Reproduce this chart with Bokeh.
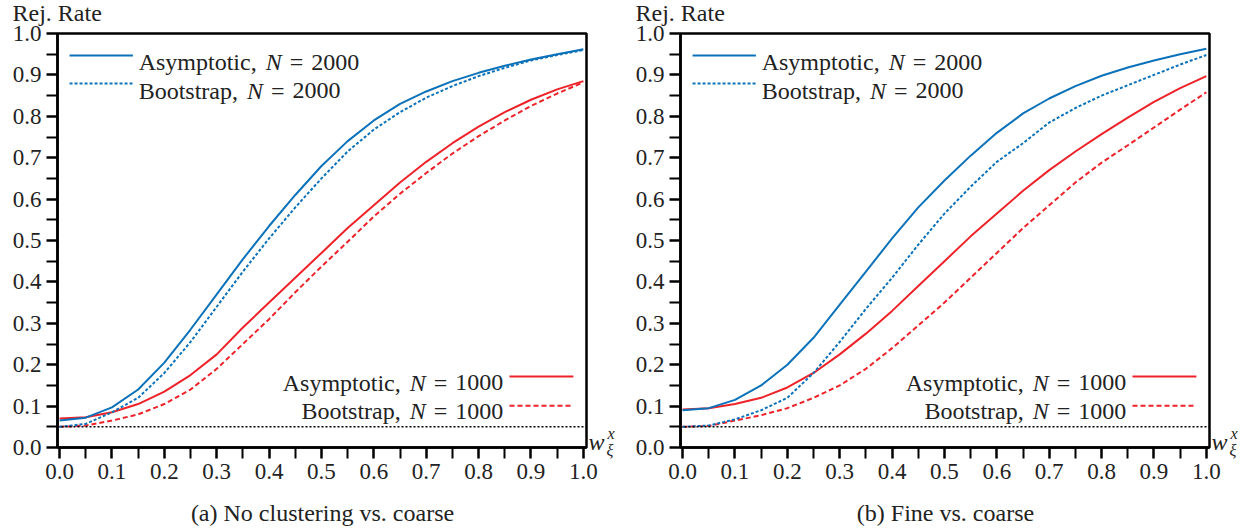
from bokeh.plotting import figure
from bokeh.models import Range1d, FixedTicker, Label, Span
from bokeh.layouts import row
from bokeh.embed import file_html
from bokeh.resources import INLINE

# ---------------- data ----------------
w_xi = [0.00, 0.05, 0.10, 0.15, 0.20, 0.25, 0.30, 0.35, 0.40, 0.45, 0.50,
        0.55, 0.60, 0.65, 0.70, 0.75, 0.80, 0.85, 0.90, 0.95, 1.00]

# (a) No clustering vs. coarse
a_asym_2000 = [0.065, 0.072, 0.097, 0.140, 0.205, 0.285, 0.370, 0.455, 0.535, 0.610, 0.680,
               0.740, 0.790, 0.830, 0.860, 0.885, 0.905, 0.922, 0.937, 0.950, 0.962]
a_boot_2000 = [0.050, 0.057, 0.085, 0.120, 0.180, 0.255, 0.340, 0.425, 0.505, 0.580, 0.650,
               0.715, 0.768, 0.810, 0.845, 0.873, 0.897, 0.917, 0.935, 0.948, 0.960]
a_asym_1000 = [0.070, 0.073, 0.085, 0.105, 0.135, 0.175, 0.225, 0.290, 0.350, 0.410, 0.470,
               0.530, 0.585, 0.640, 0.690, 0.735, 0.775, 0.810, 0.840, 0.865, 0.885]
a_boot_1000 = [0.050, 0.053, 0.065, 0.080, 0.105, 0.140, 0.190, 0.250, 0.310, 0.375, 0.437,
               0.497, 0.558, 0.613, 0.663, 0.710, 0.752, 0.790, 0.825, 0.855, 0.882]

# (b) Fine vs. coarse
b_asym_2000 = [0.090, 0.095, 0.115, 0.150, 0.200, 0.265, 0.345, 0.425, 0.505, 0.580, 0.645,
               0.705, 0.760, 0.807, 0.843, 0.873, 0.898, 0.918, 0.935, 0.950, 0.963]
b_boot_2000 = [0.050, 0.053, 0.068, 0.090, 0.120, 0.180, 0.255, 0.335, 0.410, 0.490, 0.565,
               0.630, 0.690, 0.735, 0.785, 0.820, 0.850, 0.875, 0.900, 0.925, 0.948]
b_asym_1000 = [0.092, 0.095, 0.105, 0.120, 0.145, 0.180, 0.225, 0.275, 0.330, 0.390, 0.450,
               0.510, 0.565, 0.620, 0.670, 0.715, 0.757, 0.797, 0.835, 0.868, 0.897]
b_boot_1000 = [0.050, 0.052, 0.065, 0.078, 0.095, 0.120, 0.150, 0.190, 0.240, 0.295, 0.350,
               0.410, 0.470, 0.530, 0.585, 0.640, 0.688, 0.730, 0.773, 0.816, 0.858]

nominal_level = 0.05
major_ticks = [0.0, 0.1, 0.2, 0.3, 0.4, 0.5, 0.6, 0.7, 0.8, 0.9, 1.0]
minor_ticks = [0.05, 0.15, 0.25, 0.35, 0.45, 0.55, 0.65, 0.75, 0.85, 0.95]
tick_labels = ["0.0", "0.1", "0.2", "0.3", "0.4", "0.5", "0.6", "0.7", "0.8", "0.9", "1.0"]
captions = ["(a) No clustering vs. coarse", "(b) Fine vs. coarse"]
y_title = "Rej. Rate"
names_2000 = ["Asymptotic,", "Bootstrap,"]
names_1000 = ["Asymptotic,", "Bootstrap,"]

# ---------------- style ----------------
FONT = "Liberation Serif"
BLUE = "#0B72BA"
RED = "#EE2229"
TXT = "#222222"
TICK_FS = "23px"
TXT_FS = "24px"


def lab(p, x, y, text, align="left", xoff=0, style="normal", size=TXT_FS,
        baseline="alphabetic", units="data", place=None):
    l = Label(x=x, y=y, text=text, x_offset=xoff, text_align=align,
              x_units=units, y_units=units,
              text_baseline=baseline, text_font=FONT, text_font_size=size,
              text_font_style=style, text_color=TXT)
    if place is None:
        p.add_layout(l)
    else:
        p.add_layout(l, place)


def make_panel(series, caption, left, right):
    p = figure(width=625, height=531, output_backend="svg", toolbar_location=None,
               x_range=Range1d(-0.004, 1.006), y_range=Range1d(0, 1),
               min_border_left=left, min_border_right=right,
               min_border_top=33, min_border_bottom=84)
    p.xgrid.visible = False
    p.ygrid.visible = False
    p.outline_line_color = "black"
    p.outline_line_width = 2.5
    p.background_fill_color = "white"
    p.border_fill_color = "white"

    overrides = {t: s for t, s in zip(major_ticks, tick_labels)}
    for ax in (p.xaxis[0], p.yaxis[0]):
        ax.ticker = FixedTicker(ticks=major_ticks, minor_ticks=minor_ticks)
        ax.major_label_overrides = overrides
        ax.axis_line_color = "black"
        ax.axis_line_width = 2.5
        ax.major_tick_in = 0
        ax.major_tick_out = 11
        ax.minor_tick_in = 0
        ax.minor_tick_out = 11
        ax.major_tick_line_width = 2.5
        ax.minor_tick_line_width = 2
        ax.major_tick_line_color = "black"
        ax.minor_tick_line_color = "black"
        ax.major_label_text_font = FONT
        ax.major_label_text_font_size = TICK_FS
        ax.major_label_text_color = TXT
        ax.major_label_standoff = 5

    asym2, boot2, asym1, boot1 = series
    p.add_layout(Span(location=nominal_level, dimension="width", line_color="black",
                      line_width=1.5, line_dash="2 2"))
    p.line(w_xi, asym1, color=RED, line_width=2)
    p.line(w_xi, boot1, color=RED, line_width=2, line_dash="5 3")
    p.line(w_xi, asym2, color=BLUE, line_width=2)
    p.line(w_xi, boot2, color=BLUE, line_width=2, line_dash="3 2")

    # legend (top-left, N = 2000)
    y_line = [0.947, 0.879]
    y_base = [0.930, 0.862]
    dashes = ["solid", "3 2"]
    widths = [118.0, 99.3]
    for i in range(2):
        p.line([0.019, 0.140], [y_line[i], y_line[i]], color=BLUE, line_width=2, line_dash=dashes[i])
        x0 = 0.151
        lab(p, x0, y_base[i], names_2000[i])
        o = widths[i] + 9
        lab(p, x0, y_base[i], "N", xoff=o, style="italic")
        o += 16 + 8
        lab(p, x0, y_base[i], "=", xoff=o)
        o += 13.5 + 8
        lab(p, x0, y_base[i], "2000", xoff=o)

    # legend (bottom-right, N = 1000)
    y_line = [0.1715, 0.101]
    y_base = [0.157, 0.087]
    dashes = ["solid", "5 3"]
    for i in range(2):
        p.line([0.859, 0.981], [y_line[i], y_line[i]], color=RED, line_width=2, line_dash=dashes[i])
        xe = 0.847
        lab(p, xe, y_base[i], "1000", align="right")
        lab(p, xe, y_base[i], "=", align="right", xoff=-(48 + 8))
        lab(p, xe, y_base[i], "N", align="right", xoff=-(48 + 8 + 13.5 + 8), style="italic")
        lab(p, xe, y_base[i], names_1000[i], align="right", xoff=-(48 + 8 + 13.5 + 8 + 16 + 9))

    # texts outside the frame (side panels, canvas pixels of this figure)
    lab(p, left - 45, 12, y_title, units="canvas", place="above")
    xr = left + 531
    lab(p, xr, 441, "w", style="italic", units="canvas", place="right")
    lab(p, xr + 19, 433, "x", style="italic", size="16px", units="canvas", place="right")
    lab(p, xr + 18, 450, "ξ", style="italic", size="16px", units="canvas", place="right")
    lab(p, left + 265, 512, caption, align="center", units="canvas", place="below")
    return p


pa = make_panel([a_asym_2000, a_boot_2000, a_asym_1000, a_boot_1000], captions[0], 57, 39)
pb = make_panel([b_asym_2000, b_boot_2000, b_asym_1000, b_boot_1000], captions[1], 55, 41)

layout = row(pa, pb, spacing=0)
open("out.html", "w").write(file_html(layout, INLINE))
